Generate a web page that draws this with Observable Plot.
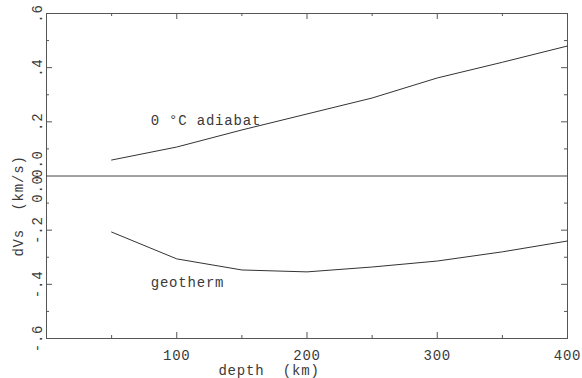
<!DOCTYPE html>
<html>
<head>
<meta charset="utf-8">
<script src="https://cdn.jsdelivr.net/npm/d3@7"></script>
<script src="https://cdn.jsdelivr.net/npm/@observablehq/plot@0.6"></script>
<style>
  html, body { margin: 0; padding: 0; background: #fff; }
</style>
</head>
<body>
<div id="chart"></div>
<script>
const depth = [50, 100, 150, 200, 250, 300, 350, 400];
const adiabat = [0.059, 0.107, 0.170, 0.229, 0.288, 0.362, 0.420, 0.480];
const geotherm = [-0.207, -0.306, -0.347, -0.354, -0.336, -0.314, -0.280, -0.240];
const xMajor = [100, 200, 300, 400];
const xMinor = [50, 150, 250, 350];
const yMajor = [-0.4, -0.2, 0.2, 0.4];
const yMinor = [-0.5, -0.3, -0.1, 0.1, 0.3, 0.5];
const xLabels = [100, 200, 300, 400];
const yLabels = [0.6, 0.4, 0.2, -0.2, -0.4, -0.6];
const curveLabels = [
  {depth: 80, dvs: 0.19, text: "0 °C adiabat"},
  {depth: 80, dvs: -0.41, text: "geotherm"}
];

const adiabatData = depth.map((d, i) => ({depth: d, dvs: adiabat[i]}));
const geothermData = depth.map((d, i) => ({depth: d, dvs: geotherm[i]}));
const fmt = v => v.toFixed(1).replace(/^(-?)0\./, "$1.");

const ink = "#3a3a3a";
const tickStroke = "#555";
const H = 325; // frame height in px
const W = 521; // frame width in px

const chart = Plot.plot({
  width: 582,
  height: 378,
  marginLeft: 46,
  marginRight: 15,
  marginTop: 13,
  marginBottom: 40,
  x: {domain: [0, 400], axis: null},
  y: {domain: [-0.6, 0.6], axis: null},
  style: {fontFamily: "'Liberation Mono', 'DejaVu Sans Mono', monospace", fontSize: "14px", color: ink, letterSpacing: "0.8px", background: "#fff"},
  marks: [
    Plot.frame({stroke: "#555", strokeWidth: 1}),
    Plot.ruleY([0], {stroke: "#444", strokeWidth: 1}),
    // bottom / top ticks (inward)
    Plot.tickX(xMajor, {x: d => d, insetTop: H - 6, stroke: tickStroke}),
    Plot.tickX(xMinor, {x: d => d, insetTop: H - 3, stroke: tickStroke}),
    Plot.tickX(xMajor, {x: d => d, insetBottom: H - 6, stroke: tickStroke}),
    Plot.tickX(xMinor, {x: d => d, insetBottom: H - 3, stroke: tickStroke}),
    // left / right ticks (inward)
    Plot.tickY(yMajor, {y: d => d, insetRight: W - 6, stroke: tickStroke}),
    Plot.tickY(yMinor, {y: d => d, insetRight: W - 3, stroke: tickStroke}),
    Plot.tickY(yMajor, {y: d => d, insetLeft: W - 6, stroke: tickStroke}),
    Plot.tickY(yMinor, {y: d => d, insetLeft: W - 3, stroke: tickStroke}),
    // curves
    Plot.line(adiabatData, {x: "depth", y: "dvs", stroke: "#333", strokeWidth: 1}),
    Plot.line(geothermData, {x: "depth", y: "dvs", stroke: "#333", strokeWidth: 1}),
    // curve labels
    Plot.text(curveLabels, {x: "depth", y: "dvs", text: "text", textAnchor: "start", lineAnchor: "bottom", fill: ink}),
    // x tick labels
    Plot.text(xLabels, {x: d => d, text: d => String(d), frameAnchor: "bottom", dy: 17, lineAnchor: "middle", fill: ink}),
    // y tick labels (rotated)
    Plot.text(yLabels, {y: d => d, text: fmt, frameAnchor: "left", dx: -9, rotate: -90, textAnchor: "middle", lineAnchor: "middle", fill: ink}),
    Plot.text([0], {y: d => d, text: () => "0.0", frameAnchor: "left", dx: -9, dy: -12, rotate: -90, textAnchor: "middle", lineAnchor: "middle", fill: ink}),
    Plot.text([0], {y: d => d, text: () => "0.0", frameAnchor: "left", dx: -9, dy: 13, rotate: -90, textAnchor: "middle", lineAnchor: "middle", fill: ink}),
    // axis titles
    Plot.text(["dVs  (km/s)"], {text: d => d, frameAnchor: "left", dx: -28, dy: 30, rotate: -90, textAnchor: "middle", lineAnchor: "middle", fill: ink}),
    Plot.text(["depth  (km)"], {text: d => d, frameAnchor: "bottom", dx: -38, dy: 32, textAnchor: "middle", lineAnchor: "middle", fill: ink})
  ]
});

document.getElementById("chart").appendChild(chart);
</script>
</body>
</html>
